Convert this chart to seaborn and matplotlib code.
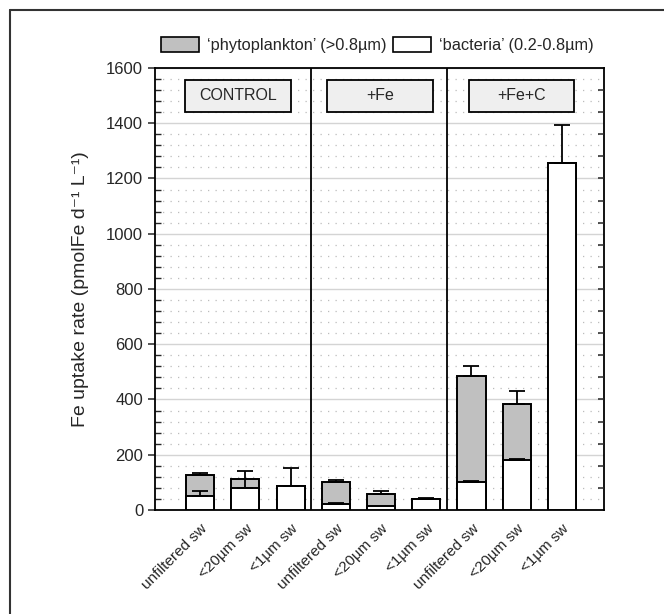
import numpy as np
import pandas as pd
import matplotlib
matplotlib.use("Agg")
import matplotlib.pyplot as plt
from matplotlib.patches import Patch, Rectangle
from matplotlib.lines import Line2D
import seaborn as sns

# values (pmolFe d-1 L-1)
treatments = ["CONTROL", "+Fe", "+Fe+C"]
fractions = ["unfiltered sw", "<20µm sw", "<1µm sw"]
total = [128, 113, 88, 100, 59, 40, 486, 382, 1256]
total_err = [7, 0, 0, 10, 10, 0, 35, 50, 0]
bacteria = [49, 80, 88, 22, 13, 40, 101, 181, 1256]
bacteria_err = [18, 61, 65, 2, 0, 3, 4, 2, 136]

sns.set_style("white")
plt.rcParams["font.family"] = ["Liberation Sans", "DejaVu Sans"]

ids = [f"{t}|{f}" for t in treatments for f in fractions]
df = pd.DataFrame({"id": ids, "total": total, "bacteria": bacteria})

fig = plt.figure(figsize=(6.64, 6.14), dpi=100)
ax = fig.add_axes([0.2334, 0.1694, 0.9096 - 0.2334, 0.8893 - 0.1694])

# grid
ax.set_ylim(0, 1600)
ax.set_yticks(np.arange(0, 1601, 200))
ax.set_yticks(np.arange(0, 1601, 40), minor=True)
ax.grid(axis="y", which="major", color="#d4d4d4", lw=1.0, ls="-")
ax.grid(axis="y", which="minor", color="#bcbcbc", lw=0.9, ls=(0, (1, 5)))
ax.set_axisbelow(True)

sns.barplot(data=df, x="id", y="total", color="#c0c0c0", width=0.62,
            edgecolor="black", linewidth=1.4, saturation=1, ax=ax, zorder=2)
sns.barplot(data=df, x="id", y="bacteria", color="white", width=0.62,
            edgecolor="black", linewidth=1.4, saturation=1, ax=ax, zorder=3)

pos = np.arange(len(ids))
for y, e in [(total, total_err), (bacteria, bacteria_err)]:
    y = np.array(y, float)
    e = np.array(e, float)
    m = e > 0
    ax.errorbar(pos[m], y[m], yerr=[np.zeros(m.sum()), e[m]], fmt="none",
                ecolor="black", elinewidth=1.3, capsize=6, capthick=1.3, zorder=4)

ax.set_xlim(-1.0, 8.93)
ax.set_xticks(pos)
ax.set_xticklabels(fractions * 3, rotation=45, ha="right", va="top",
                   rotation_mode="anchor", fontsize=11)
ax.set_xlabel("")
ax.set_ylabel("Fe uptake rate (pmolFe d\u207b\u00b9 L\u207b\u00b9)", fontsize=14, labelpad=12)
ax.tick_params(axis="y", which="major", direction="out", length=5, width=1.1, labelsize=12)
ax.tick_params(axis="y", which="minor", left=True, direction="in", length=4, width=1.0)
ax.tick_params(axis="x", direction="out", length=5, width=1.1)
for s in ax.spines.values():
    s.set_color("black")
    s.set_linewidth(1.3)

# right axis ticks
ax2 = ax.twinx()
ax2.set_ylim(0, 1600)
ax2.set_yticks(np.arange(80, 1600, 80))
ax2.tick_params(axis="y", direction="in", length=4, width=1.1, labelright=False)
for s in ax2.spines.values():
    s.set_visible(False)

# treatment separators and labels
for xs in [2.45, 5.45]:
    ax.axvline(xs, color="black", lw=1.3, zorder=5)
for name, x0, x1 in [("CONTROL", -0.33, 2.0), ("+Fe", 2.8, 5.14), ("+Fe+C", 5.94, 8.26)]:
    ax.add_patch(Rectangle((x0, 1441), x1 - x0, 116, facecolor="#efefef",
                           edgecolor="black", lw=1.3, zorder=6))
    ax.text((x0 + x1) / 2, 1499, name, ha="center", va="center", fontsize=11.5, zorder=7)

handles = [Patch(facecolor="#c0c0c0", edgecolor="black", lw=1.2),
           Patch(facecolor="white", edgecolor="black", lw=1.2)]
fig.legend(handles, ["\u2018phytoplankton\u2019 (>0.8µm)", "\u2018bacteria\u2019 (0.2-0.8µm)"],
           loc="center", bbox_to_anchor=(0.5685, 0.926), ncol=2, frameon=False,
           fontsize=11.8, handlelength=2.3, handleheight=1.0, handletextpad=0.5,
           columnspacing=0.4, borderaxespad=0)

# cropped frame lines
fx, fy = 10 / 664, 1 - 10 / 614
fig.add_artist(Line2D([fx, 1], [fy, fy], color="#333333", lw=1.5))
fig.add_artist(Line2D([fx, fx], [0, fy], color="#333333", lw=1.5))

fig.savefig("out.png", dpi=100)
